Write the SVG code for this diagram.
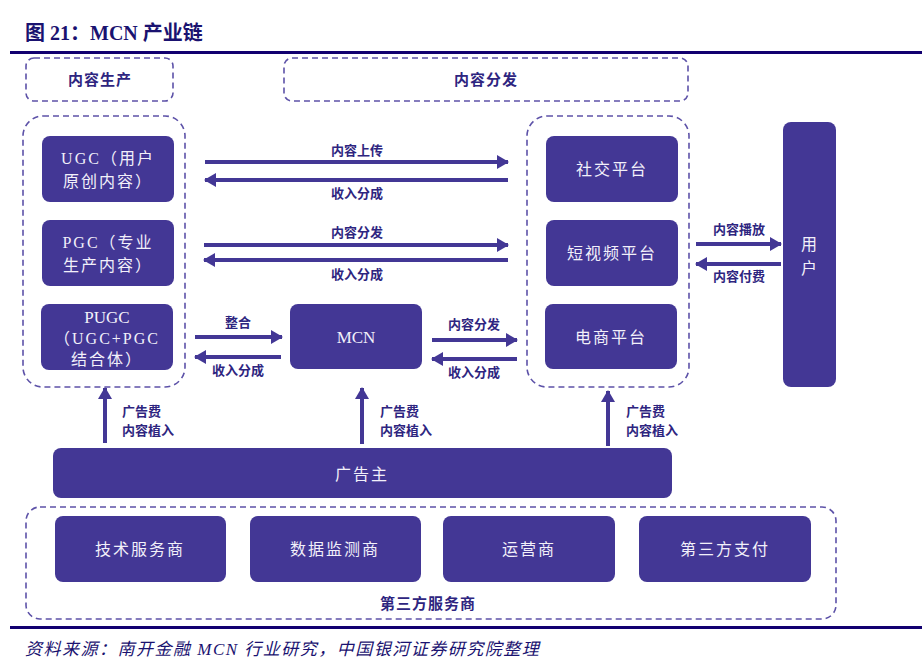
<svg xmlns="http://www.w3.org/2000/svg" width="922" height="660" viewBox="0 0 922 660">
<defs>
<marker id="ah" markerUnits="userSpaceOnUse" markerWidth="12" markerHeight="14" refX="11" refY="7" orient="auto">
<path d="M0,0 L12,7 L0,14 Z" fill="#433795"/>
</marker>
<style>
.box{fill:#433795;}
.dash{fill:none;stroke:#5d52a8;stroke-width:1.6;stroke-dasharray:6,4;}
.bt{font-family:"Liberation Serif","Noto Sans CJK SC",serif;font-size:16px;fill:#f2f0fa;text-anchor:middle;letter-spacing:2px;}
.lat{letter-spacing:0px;font-size:17px;}
.lb{font-family:"Liberation Serif","Noto Sans CJK SC",serif;font-size:13px;font-weight:bold;fill:#2e2580;text-anchor:middle;}
.lbl{font-family:"Liberation Serif","Noto Sans CJK SC",serif;font-size:13px;font-weight:bold;fill:#2e2580;}
.gl{font-family:"Liberation Serif","Noto Sans CJK SC",serif;font-size:15px;font-weight:bold;fill:#2e2580;text-anchor:middle;letter-spacing:1px;}
.ar{stroke:#433795;stroke-width:4;fill:none;marker-end:url(#ah);}
</style>
</defs>
<rect width="922" height="660" fill="#ffffff"/>
<text x="25" y="40" font-family="Liberation Serif,'Noto Sans CJK SC',serif" font-size="20" font-weight="bold" fill="#1a1270" xml:space="preserve">图 21：MCN 产业链</text>
<rect x="10" y="51" width="912" height="3" fill="#120070"/>
<rect x="10" y="626" width="912" height="3" fill="#120070"/>
<text x="25" y="655" font-family="Liberation Serif,'Noto Sans CJK SC',serif" font-size="17" font-style="italic" letter-spacing="1.5" fill="#1a1270">资料来源：南开金融 MCN 行业研究，中国银河证券研究院整理</text>

<g id="group-content-production">
<rect class="dash" x="26" y="58" width="147" height="43" rx="8"/>
<text class="gl" x="100" y="85">内容生产</text>
</g>
<g id="group-content-distribution">
<rect class="dash" x="284" y="58" width="404" height="43" rx="8"/>
<text class="gl" x="486" y="85">内容分发</text>
</g>
<g id="group-producers">
<rect class="dash" x="23" y="116" width="162" height="271" rx="20"/>
</g>
<g id="group-platforms">
<rect class="dash" x="527" y="116" width="162" height="271" rx="20"/>
</g>
<g id="group-third-party">
<rect class="dash" x="26" y="507" width="810" height="112" rx="14"/>
<text class="gl" x="428" y="609">第三方服务商</text>
</g>

<g id="ugc"><rect class="box" x="42" y="136" width="132" height="66" rx="8"/>
<text class="bt" x="108" y="164">UGC（用户</text><text class="bt" x="108" y="187">原创内容）</text></g>
<g id="pgc"><rect class="box" x="42" y="220" width="132" height="66" rx="8"/>
<text class="bt" x="108" y="248">PGC（专业</text><text class="bt" x="108" y="271">生产内容）</text></g>
<g id="pugc"><rect class="box" x="41" y="304" width="132" height="66" rx="8"/>
<text class="bt lat" x="107" y="323">PUGC</text><text class="bt" x="107" y="344" letter-spacing="0.5">（UGC+PGC</text><text class="bt" x="107" y="365">结合体）</text></g>
<g id="mcn"><rect class="box" x="290" y="304" width="132" height="65" rx="8"/>
<text class="bt lat" x="356" y="343">MCN</text></g>
<g id="social"><rect class="box" x="546" y="136" width="132" height="66" rx="8"/>
<text class="bt" x="612" y="175">社交平台</text></g>
<g id="short-video"><rect class="box" x="546" y="220" width="132" height="66" rx="8"/>
<text class="bt" x="612" y="259">短视频平台</text></g>
<g id="ecommerce"><rect class="box" x="545" y="304" width="132" height="65" rx="8"/>
<text class="bt" x="611" y="343">电商平台</text></g>
<g id="user"><rect class="box" x="783" y="122" width="53" height="265" rx="8"/>
<text class="bt" x="810" y="250">用</text><text class="bt" x="810" y="274">户</text></g>
<g id="advertiser"><rect class="box" x="53" y="448" width="619" height="50" rx="8"/>
<text class="bt" x="362" y="480">广告主</text></g>
<g id="tech"><rect class="box" x="55" y="516" width="171" height="66" rx="8"/>
<text class="bt" x="140" y="555">技术服务商</text></g>
<g id="data"><rect class="box" x="250" y="516" width="171" height="66" rx="8"/>
<text class="bt" x="335" y="555">数据监测商</text></g>
<g id="operator"><rect class="box" x="443" y="516" width="172" height="66" rx="8"/>
<text class="bt" x="529" y="555">运营商</text></g>
<g id="payment"><rect class="box" x="639" y="516" width="172" height="66" rx="8"/>
<text class="bt" x="725" y="555">第三方支付</text></g>

<g id="connectors">
<line class="ar" x1="205" y1="162" x2="508" y2="162"/>
<line class="ar" x1="508" y1="180" x2="205" y2="180"/>
<text class="lb" x="357" y="155">内容上传</text>
<text class="lb" x="357" y="198">收入分成</text>
<line class="ar" x1="204" y1="245" x2="508" y2="245"/>
<line class="ar" x1="508" y1="260" x2="204" y2="260"/>
<text class="lb" x="357" y="237">内容分发</text>
<text class="lb" x="357" y="279">收入分成</text>
<line class="ar" x1="195" y1="337" x2="282" y2="337"/>
<line class="ar" x1="281" y1="357" x2="195" y2="357"/>
<text class="lb" x="238" y="327">整合</text>
<text class="lb" x="238" y="375">收入分成</text>
<line class="ar" x1="432" y1="340" x2="517" y2="340"/>
<line class="ar" x1="517" y1="359" x2="432" y2="359"/>
<text class="lb" x="474" y="329">内容分发</text>
<text class="lb" x="474" y="377">收入分成</text>
<line class="ar" x1="696" y1="244" x2="781" y2="244"/>
<line class="ar" x1="781" y1="264" x2="696" y2="264"/>
<text class="lb" x="739" y="234">内容播放</text>
<text class="lb" x="739" y="281">内容付费</text>
<line class="ar" x1="105" y1="443" x2="105" y2="388"/>
<text class="lbl" x="122" y="416">广告费</text>
<text class="lbl" x="122" y="435">内容植入</text>
<line class="ar" x1="362" y1="444" x2="362" y2="388"/>
<text class="lbl" x="380" y="416">广告费</text>
<text class="lbl" x="380" y="435">内容植入</text>
<line class="ar" x1="608" y1="446" x2="608" y2="391"/>
<text class="lbl" x="626" y="416">广告费</text>
<text class="lbl" x="626" y="435">内容植入</text>
</g>
</svg>
